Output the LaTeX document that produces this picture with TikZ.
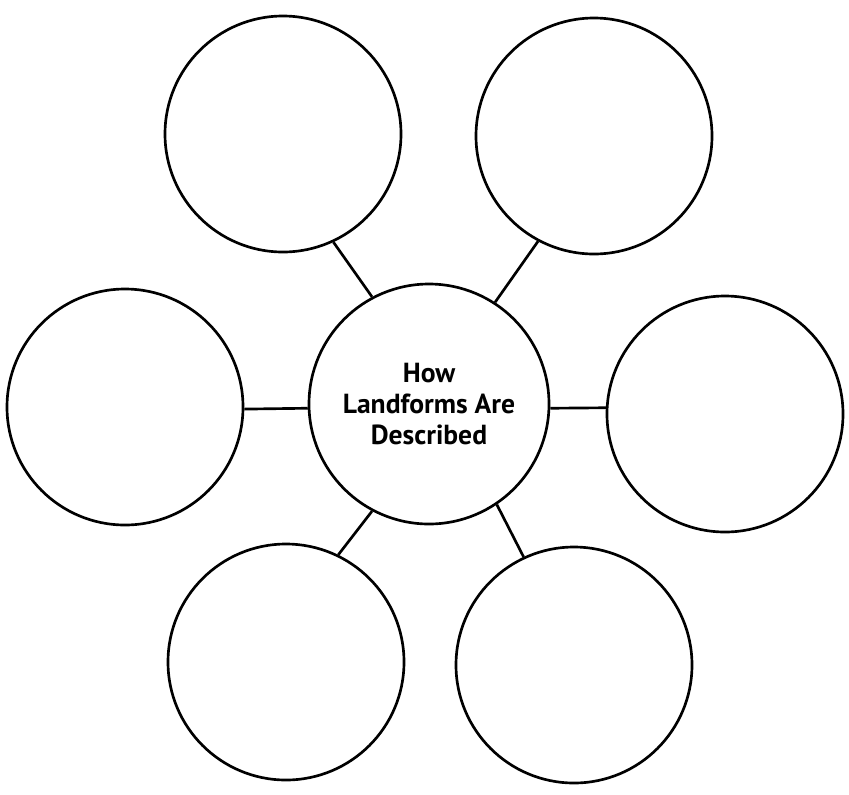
\documentclass[tikz,border=0pt]{standalone}
\usepackage{fontspec}
\setmainfont{PT Sans}
\usepackage{tikz}

\tikzset{
  bubble/.style={draw, circle, line width=2pt, minimum size=177pt, inner sep=0pt},
  hubtext/.style={align=center, font=\bfseries\fontsize{20.7}{23.4}\selectfont}
}

\begin{document}
\begin{tikzpicture}[x=0.75pt, y=-0.75pt]
				\useasboundingbox (0,0) rectangle (849,794);

				\node [bubble, minimum size=180pt, hubtext] (hub) at (429,404) {How\\Landforms Are\\Described};

				\node [bubble] (nw) at (283,134) {};
				\draw [line width=2pt] (hub.118.5) to (nw.-65.4);

				\node [bubble] (ne) at (594,136) {};
				\draw [line width=2pt] (hub.57.6) to (ne.-118);

				\node [bubble] (w) at (125,407) {};
				\draw [line width=2pt] (hub.182.3) to (w.-1);

				\node [bubble] (e) at (725,414) {};
				\draw [line width=2pt] (hub.-2.4) to (e.177.5);

				\node [bubble] (sw) at (286,662) {};
				\draw [line width=2pt] (hub.-118) to (sw.64);

				\node [bubble] (se) at (574,665) {};
				\draw [line width=2pt] (hub.-56) to (se.115.7);
			\end{tikzpicture}
\end{document}
